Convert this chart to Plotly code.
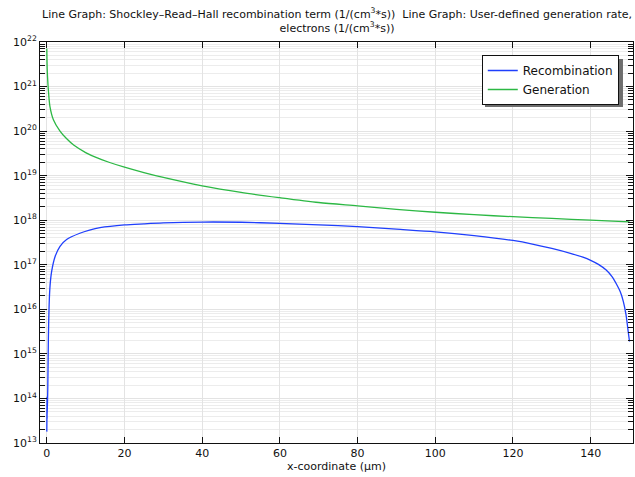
import plotly.graph_objects as go

# ---- data ----
x_gen = [0, 0.1, 0.2, 0.4, 0.8, 1.7, 3.4, 5, 7, 10, 13, 16, 20, 25, 30, 40, 50, 60,
         70, 80, 90, 100, 110, 120, 130, 140, 150]
gen_vals = [7.1e21, 2.5e21, 1.6e21, 8.5e20, 3.6e20, 1.8e20, 1.0e20, 6.9e19, 4.8e19,
            3.3e19, 2.5e19, 2.0e19, 1.55e19, 1.17e19, 9.1e18, 5.9e18, 4.2e18, 3.2e18,
            2.5e18, 2.1e18, 1.76e18, 1.51e18, 1.33e18, 1.2e18, 1.1e18, 1.0e18, 9.2e17]

x_rec = [0, 0.03, 0.05, 0.08, 0.25, 0.4, 0.6, 0.85, 1.25, 2.1, 3.4, 5.1, 8.5, 11, 13.7,
         20, 25, 30, 40, 50, 60, 70, 80, 90, 100, 110, 120, 125, 130, 135, 138, 140,
         142, 144, 145.5, 146.7, 147.6, 148.4, 149.1, 149.6, 150]
rec_vals = [1.8e13, 3.5e13, 1.1e14, 3.5e13, 1.6e14, 2.0e15, 1.26e16, 3.5e16, 7.1e16,
            1.5e17, 2.6e17, 3.7e17, 5.1e17, 6.0e17, 6.8e17, 7.85e17, 8.3e17, 8.7e17,
            9.1e17, 9.0e17, 8.5e17, 7.9e17, 7.2e17, 6.3e17, 5.5e17, 4.52e17, 3.51e17,
            2.92e17, 2.32e17, 1.78e17, 1.48e17, 1.26e17, 1.02e17, 7.6e16, 5.4e16,
            3.6e16, 2.5e16, 1.51e16, 7.6e15, 3.5e15, 1.9e15]

x_ticks = [0, 20, 40, 60, 80, 100, 120, 140]
y_exps = list(range(13, 23))
y_ticks = [10.0 ** e for e in y_exps]
y_ticktext = [f"10<sup>{e}</sup>" for e in y_exps]
y_minor = [k * 10.0 ** e for e in range(13, 22) for k in range(2, 10)]

title_text = ("Line Graph: Shockley\u2013Read\u2013Hall recombination term (1/(cm<sup>3</sup>*s))  "
              "Line Graph: User-defined generation rate,<br>electrons (1/(cm<sup>3</sup>*s))")

FONT = "DejaVu Sans"
GRID = "#e3e3e3"

fig = go.Figure()
fig.add_trace(go.Scatter(x=x_rec, y=rec_vals, mode="lines", name="Recombination",
                         line=dict(color="#1f3ffc", width=1.3, shape="spline", smoothing=0.8)))
fig.add_trace(go.Scatter(x=x_gen, y=gen_vals, mode="lines", name="Generation",
                         line=dict(color="#2cb844", width=1.3, shape="spline", smoothing=0.8)))

fig.update_layout(
    width=635, height=477,
    margin=dict(l=40, r=2, t=42, b=34, autoexpand=False),
    paper_bgcolor="white", plot_bgcolor="white",
    font=dict(family=FONT, size=11, color="#111"),
    showlegend=True,
    legend=dict(x=0.745, y=0.9676, xanchor="left", yanchor="top",
                bgcolor="white", bordercolor="#111", borderwidth=1,
                font=dict(family=FONT, size=12, color="#111"),
                tracegroupgap=0, itemwidth=30),
    xaxis=dict(range=[-1.75, 150.9], tickvals=x_ticks, showgrid=True, gridcolor=GRID,
               automargin=False,
               zeroline=False, showline=True, linecolor="#111", linewidth=1,
               mirror="allticks", ticks="inside", ticklen=6, tickcolor="#111",
               title=dict(text="x-coordinate (\u00b5m)", standoff=2,
                          font=dict(family=FONT, size=11)),
               tickfont=dict(family=FONT, size=11)),
    yaxis=dict(type="log", range=[13, 22], tickvals=y_ticks, ticktext=y_ticktext,
               automargin=False,
               showgrid=True, gridcolor=GRID, zeroline=False, showline=True,
               linecolor="#111", linewidth=1, mirror="allticks", ticks="inside",
               ticklen=7, tickcolor="#111", tickfont=dict(family=FONT, size=11),
               minor=dict(tickvals=y_minor, ticks="inside", ticklen=5,
                          tickcolor="#111", showgrid=True, gridcolor="#ececec")),
)

# chart title (two lines, centred over the plot area)
fig.add_annotation(text=title_text, xref="paper", yref="paper", x=0.5, y=1.053,
                   xanchor="center", yanchor="middle", showarrow=False,
                   font=dict(family=FONT, size=11, color="#111"))

# legend shadow (offset 3 px down-right behind the legend box)
fig.add_shape(type="rect", xref="paper", yref="paper",
              x0=0.7504, x1=0.9831, y0=0.8379, y1=0.9576,
              fillcolor="#6e6e6e", line=dict(width=0), layer="above")

fig.write_html("out.html", config={"displayModeBar": False},
               post_script="document.body.style.margin='0';document.body.style.padding='0';")
